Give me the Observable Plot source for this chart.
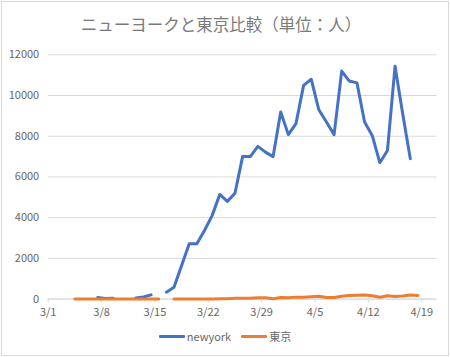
<!DOCTYPE html>
<html>
<head>
<meta charset="utf-8">
<script src="https://cdn.jsdelivr.net/npm/d3@7"></script>
<script src="https://cdn.jsdelivr.net/npm/@observablehq/plot@0.6"></script>
<style>
  html, body { margin: 0; padding: 0; background: #fff; }
  #wrap { position: relative; width: 450px; height: 357px; background: #fff; overflow: hidden;
          font-family: "Noto Sans CJK JP", "Noto Sans", sans-serif; }
  #frame { position: absolute; left: 1px; top: 1px; width: 446px; height: 353px; border: 1px solid #d9d9d9; }
  #title { position: absolute; left: 0; top: 13px; width: 442px; text-align: center;
           font-size: 16.5px; line-height: 22px; color: #7a7a7a; white-space: nowrap; }
  #chart { position: absolute; left: 0; top: 40px; }
  #legend { position: absolute; left: 0; top: 328px; width: 450px; display: flex; justify-content: center;
            align-items: center; gap: 10px; font-size: 11px; color: #666666; }
  .item { display: flex; align-items: center; }
  .sw { display: inline-block; width: 26px; height: 3px; margin-right: 2px; border-radius: 1px; }
</style>
</head>
<body>
<div id="wrap">
  <div id="frame"></div>
  <div id="title">ニューヨークと東京比較（単位：人）</div>
  <div id="chart"></div>
  <div id="legend"></div>
</div>
<script>
const dates = [
  "2020-03-01","2020-03-02","2020-03-03","2020-03-04","2020-03-05","2020-03-06","2020-03-07",
  "2020-03-08","2020-03-09","2020-03-10","2020-03-11","2020-03-12","2020-03-13","2020-03-14",
  "2020-03-15","2020-03-16","2020-03-17","2020-03-18","2020-03-19","2020-03-20","2020-03-21",
  "2020-03-22","2020-03-23","2020-03-24","2020-03-25","2020-03-26","2020-03-27","2020-03-28",
  "2020-03-29","2020-03-30","2020-03-31","2020-04-01","2020-04-02","2020-04-03","2020-04-04",
  "2020-04-05","2020-04-06","2020-04-07","2020-04-08","2020-04-09","2020-04-10","2020-04-11",
  "2020-04-12","2020-04-13","2020-04-14","2020-04-15","2020-04-16","2020-04-17","2020-04-18"
];
const newyork = [
  null, null, null, null, null, null, 80,
  35, 40, null, null, 60, 100, 210,
  null, 335, 580, 1650, 2715, 2715, 3370,
  4100, 5140, 4800, 5200, 7000, 7000, 7500,
  7220, 7000, 9190, 8080, 8620, 10500, 10800,
  9300, 8700, 8080, 11200, 10710, 10620, 8700,
  8040, 6700, 7300, 11440, 9100, 6900, null
];
const tokyo = [
  null, null, null, 3, 8, 6, 3,
  3, 2, 1, 7, 4, 3, 9,
  3, null, 6, 9, 3, 11, 7,
  3, 16, 17, 41, 47, 40, 63,
  68, 13, 78, 66, 97, 89, 118,
  143, 83, 80, 144, 178, 189, 197,
  166, 91, 161, 127, 149, 201, 181
];
const seriesNames = ["newyork", "東京"];
const seriesColors = ["#4472C4", "#ED7D31"];
const xTickDates = ["2020-03-01","2020-03-08","2020-03-15","2020-03-22","2020-03-29","2020-04-05","2020-04-12","2020-04-19"];
const yTicks = [0, 2000, 4000, 6000, 8000, 10000, 12000];
const xDomain = ["2020-03-01", "2020-04-21"];

const HALF_DAY = 12 * 3600 * 1000;
const rows = dates.map((d, i) => ({
  date: new Date(Date.parse(d) + HALF_DAY),
  ny: newyork[i],
  tk: tokyo[i]
}));

const chart = Plot.plot({
  width: 450,
  height: 285,
  marginLeft: 47.7,
  marginRight: 13.5,
  marginTop: 14.3,
  marginBottom: 26.4,
  style: { fontFamily: "'Noto Sans CJK JP', 'Noto Sans', sans-serif", fontSize: "11px", color: "#666666", background: "transparent", overflow: "visible" },
  x: { type: "utc", domain: xDomain.map(d => new Date(d)), label: null },
  y: { domain: [0, 12000], label: null },
  marks: [
    Plot.gridY(yTicks, { stroke: "#d9d9d9", strokeOpacity: 1 }),
    Plot.ruleY([0], { stroke: "#d9d9d9", strokeWidth: 1 }),
    Plot.axisY(yTicks, { tickSize: 0, tickPadding: 9, tickFormat: d => String(d), fill: "#666666", fontSize: 11, label: null }),
    Plot.axisX(xTickDates.map(d => new Date(d)), { tickSize: 4, tickPadding: 5, tickFormat: d3.utcFormat("%-m/%-d"), stroke: "#d9d9d9", fill: "#666666", fontSize: 11, label: null }),
    Plot.lineY(rows, { x: "date", y: "ny", stroke: seriesColors[0], strokeWidth: 3, strokeLinejoin: "round", strokeLinecap: "round" }),
    Plot.lineY(rows, { x: "date", y: "tk", stroke: seriesColors[1], strokeWidth: 3, strokeLinejoin: "round", strokeLinecap: "round" })
  ]
});
document.getElementById("chart").appendChild(chart);

const legend = document.getElementById("legend");
seriesNames.forEach((name, i) => {
  const item = document.createElement("div");
  item.className = "item";
  const sw = document.createElement("span");
  sw.className = "sw";
  sw.style.background = seriesColors[i];
  const label = document.createElement("span");
  label.textContent = name;
  item.appendChild(sw);
  item.appendChild(label);
  legend.appendChild(item);
});
</script>
</body>
</html>
